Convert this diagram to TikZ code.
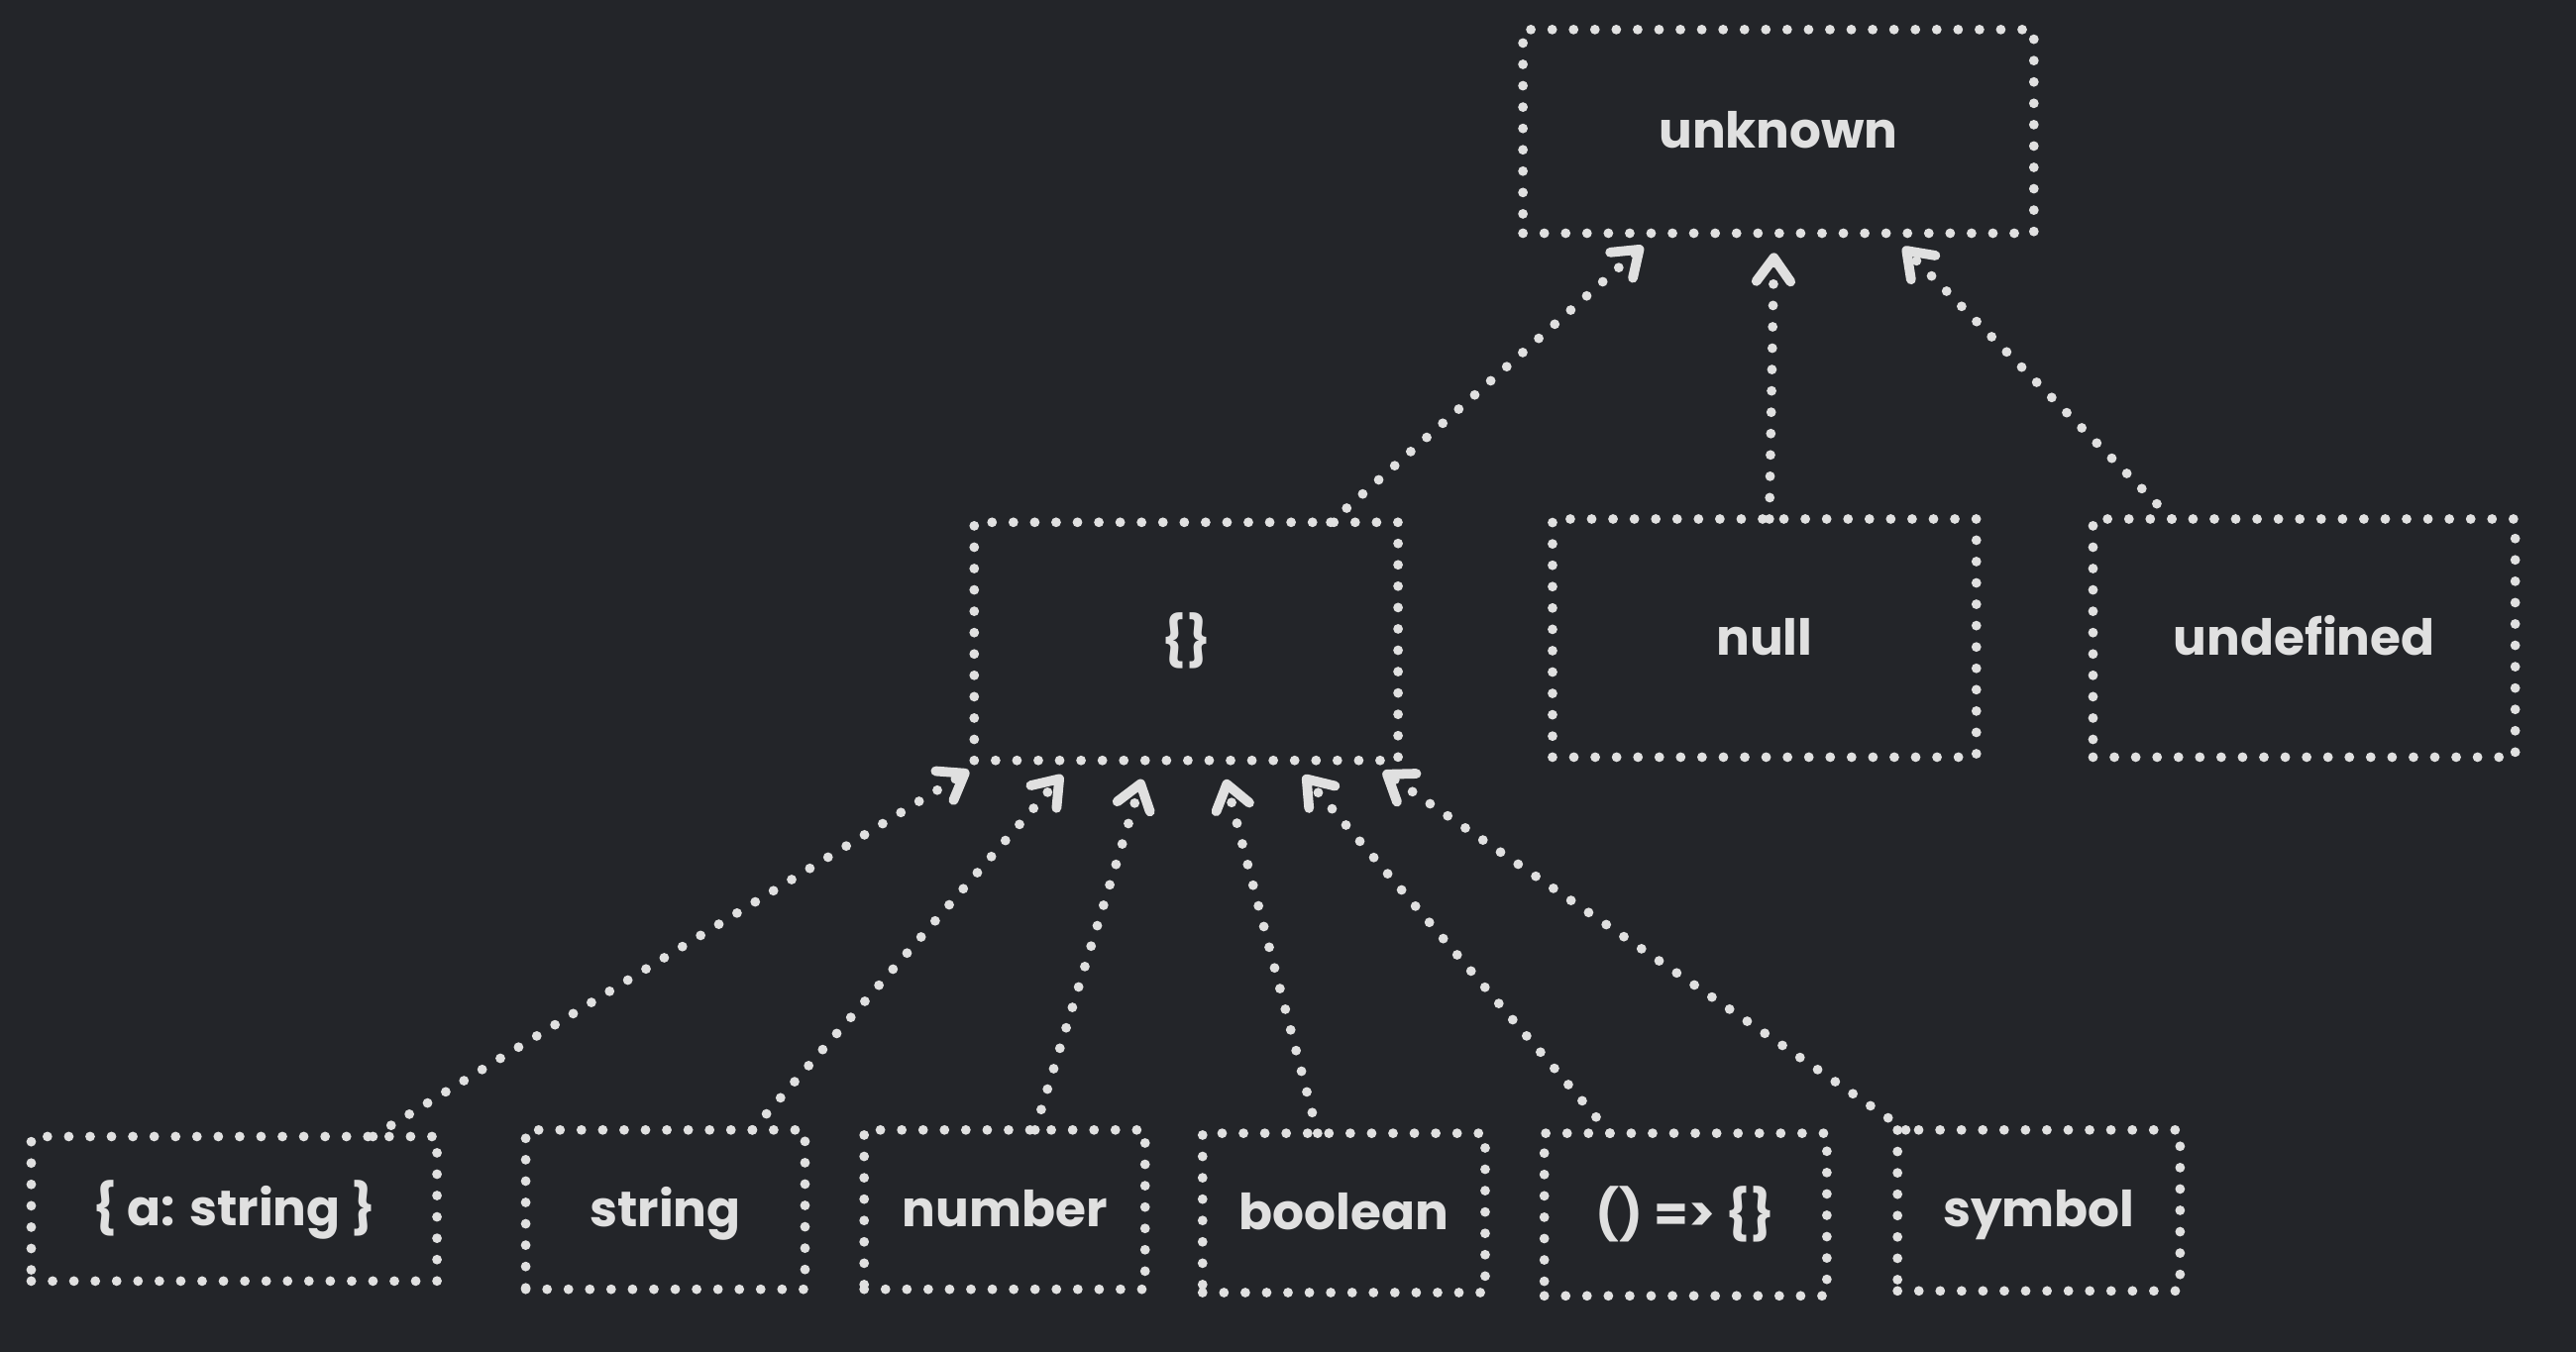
\documentclass[tikz,border=0pt]{standalone}
\usepackage{fontspec}
\setmainfont{Poppins}
\usetikzlibrary{arrows.meta, calc, positioning}

\definecolor{bgcol}{HTML}{232529}
\definecolor{inkcol}{HTML}{E0E0E0}

\tikzset{
  dotline/.style={draw=inkcol, line width=4.2pt, line cap=round, dash pattern=on 0pt off 0.325cm},
  typebox/.style 2 args={dotline, minimum width=#1*0.025cm, minimum height=#2*0.025cm,
    inner sep=0pt, outer sep=0pt, text=inkcol, text height=0.66cm, text depth=0.15cm,
    font=\fontsize{21.5}{25}\selectfont\bfseries},
  link/.style={dotline, shorten >=0.3cm,
    -{Straight Barb[round, length=0.36cm, width=0.52cm]}}
}

\begin{document}
\begin{tikzpicture}[x=0.025cm, y=-0.025cm]

          % --- Canvas ---
          \useasboundingbox (0,0) rectangle (1568,823);
          \fill[bgcol] (0,0) rectangle (1568,823);

          % --- Top type ---
          \node[typebox={311}{124}] (unknown) at (1082.5,80) {unknown};

          % --- Middle row ---
          \node[typebox={258}{145}] (obj) at (722,390.5) {\{\}};
          \node[typebox={258}{145}] (null) at (1074,388.5) {null};
          \node[typebox={257}{145}] (undef) at (1402.5,388.5) {undefined};

          % --- Bottom row ---
          \node[typebox={247}{88}] (aobj) at (142.5,736) {\{ a: string \}};
          \node[typebox={170}{97}] (str) at (405,736.5) {string};
          \node[typebox={171}{97}] (num) at (611.5,736.5) {number};
          \node[typebox={172}{97}] (bool) at (818,738.5) {boolean};
          \node[typebox={172}{99}] (fn) at (1026,739.5) {() => \{\}};
          \node[typebox={172}{98}] (sym) at (1241,737) {symbol};

          % --- Arrows into unknown ---
          \draw[link] ($(obj.north)+(88,0)$) -- ($(unknown.south)+(-73.5,0)$);
          \draw[link] ($(null.north)+(3,0)$) -- ($(unknown.south)+(-2.5,0)$);
          \draw[link] ($(undef.north)+(-80.5,0)$) -- ($(unknown.south)+(67.5,0)$);

          % --- Arrows into {} ---
          \foreach \n/\s/\t in {aobj/84.5/-122,str/53/-67.4,num/18.5/-23.4,
          bool/-16/21,fn/-46/63.6,sym/-81/110}{
            \draw[link] ($(\n.north)+(\s,0)$) -- ($(obj.south)+(\t,0)$);
          }

        \end{tikzpicture}
\end{document}
